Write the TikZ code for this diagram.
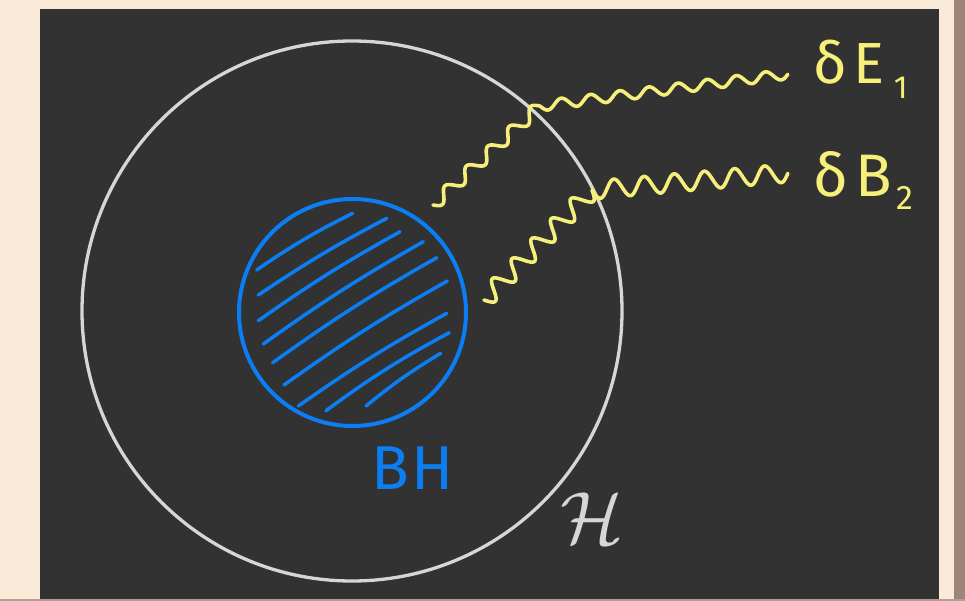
\RequirePackage{fix-cm}
\documentclass[tikz,border=0pt]{standalone}
\usepackage{fontspec}
\setmainfont{Fira Sans}
\definecolor{panel}{HTML}{323232}
\definecolor{paper}{HTML}{F8EAD6}
\definecolor{rim}{HTML}{9C8478}
\definecolor{chalk}{HTML}{D6D6D6}
\definecolor{bhblue}{HTML}{0A7EF2}
\definecolor{wavey}{HTML}{F6F07A}
\tikzset{
  horizon/.style={circle, draw=chalk, line width=3.3pt, inner sep=0pt},
  bhcircle/.style={circle, draw=bhblue, line width=4pt, inner sep=0pt},
  hatch/.style={draw=bhblue, line width=3.5pt, line cap=round},
  wave/.style={draw=wavey, line width=3.6pt, line cap=round, line join=round},
  lbl/.style={inner sep=0pt, anchor=base west},
}
% \wavyseg{x1}{y1}{x2}{y2}{amplitude}{half-waves}
\newcommand\wavyseg[6]{%
  \draw[wave] plot[domain=0:1, samples=220, variable=\t]
   ({#1+\t*(#3-#1) - (#5)*sin(\t*#6*180)*(#4-#2)/veclen(#3-#1,#4-#2)},
    {#2+\t*(#4-#2) + (#5)*sin(\t*#6*180)*(#3-#1)/veclen(#3-#1,#4-#2)});}
\begin{document}
\begin{tikzpicture}[x=1pt,y=-1pt]
\useasboundingbox (0,0) rectangle (965,601);
\fill[paper] (0,0) rectangle (965,601);
\fill[rim] (954,0) rectangle (965,601);
\fill[rim!80] (0,599) rectangle (965,601);
\fill[panel] (40,9) rectangle (939,599);

\node[horizon, minimum size=540pt] (H) at (352,311) {};
\node[bhcircle, minimum size=227pt] (BH) at (352.5,312.5) {};

% hatching
\draw[hatch] (256.7,270) to[bend left=4] (352.7,213.3);
\draw[hatch] (258.3,295) to[bend left=3] (386.7,218.3);
\draw[hatch] (258.3,320.7) to[bend left=3] (400,231.7);
\draw[hatch] (263.3,344) to[bend left=3] (423.3,241.7);
\draw[hatch] (272.7,362.7) to[bend left=3] (436.7,257.7);
\draw[hatch] (284,385) to[bend left=3] (447.3,281);
\draw[hatch] (298.3,406) to[bend left=3] (446.7,313.3);
\draw[hatch] (326,410.7) to[bend left=4] (449.3,332.7);
\draw[hatch] (366,406) to[bend left=4] (440.7,353.3);

% waves
\coordinate (w1s) at (433,205);
\coordinate (w1c) at (540,106);
\coordinate (w1e) at (788,74);
\coordinate (w2s) at (484,300);
\coordinate (w2c) at (592,190);
\coordinate (w2e) at (788,173);
\wavyseg{433}{205}{540}{106}{6}{10}
\wavyseg{540}{106}{788}{74}{5}{17}
\wavyseg{484}{300}{592}{190}{9}{11}
\wavyseg{592}{190}{788}{173}{9}{13}

% labels
\node[lbl, text=wavey, font=\fontsize{58}{60}\selectfont] (dE) at (813,84) {δ\kern7pt E\kern9pt\raisebox{-15pt}{\fontsize{32}{32}\selectfont 1}};
\node[lbl, text=wavey, font=\fontsize{60}{62}\selectfont] (dB) at (813,197) {δ\kern8pt B\kern4pt\raisebox{-13pt}{\fontsize{34}{34}\selectfont 2}};
\node[lbl, text=bhblue, font=\fontsize{62}{64}\selectfont] (bhl) at (371,489) {B\kern3pt H};
\node[lbl, text=chalk, font=\fontsize{74}{76}\selectfont] (hl) at (560,543) {$\mathcal{H}$};
\end{tikzpicture}
\end{document}
